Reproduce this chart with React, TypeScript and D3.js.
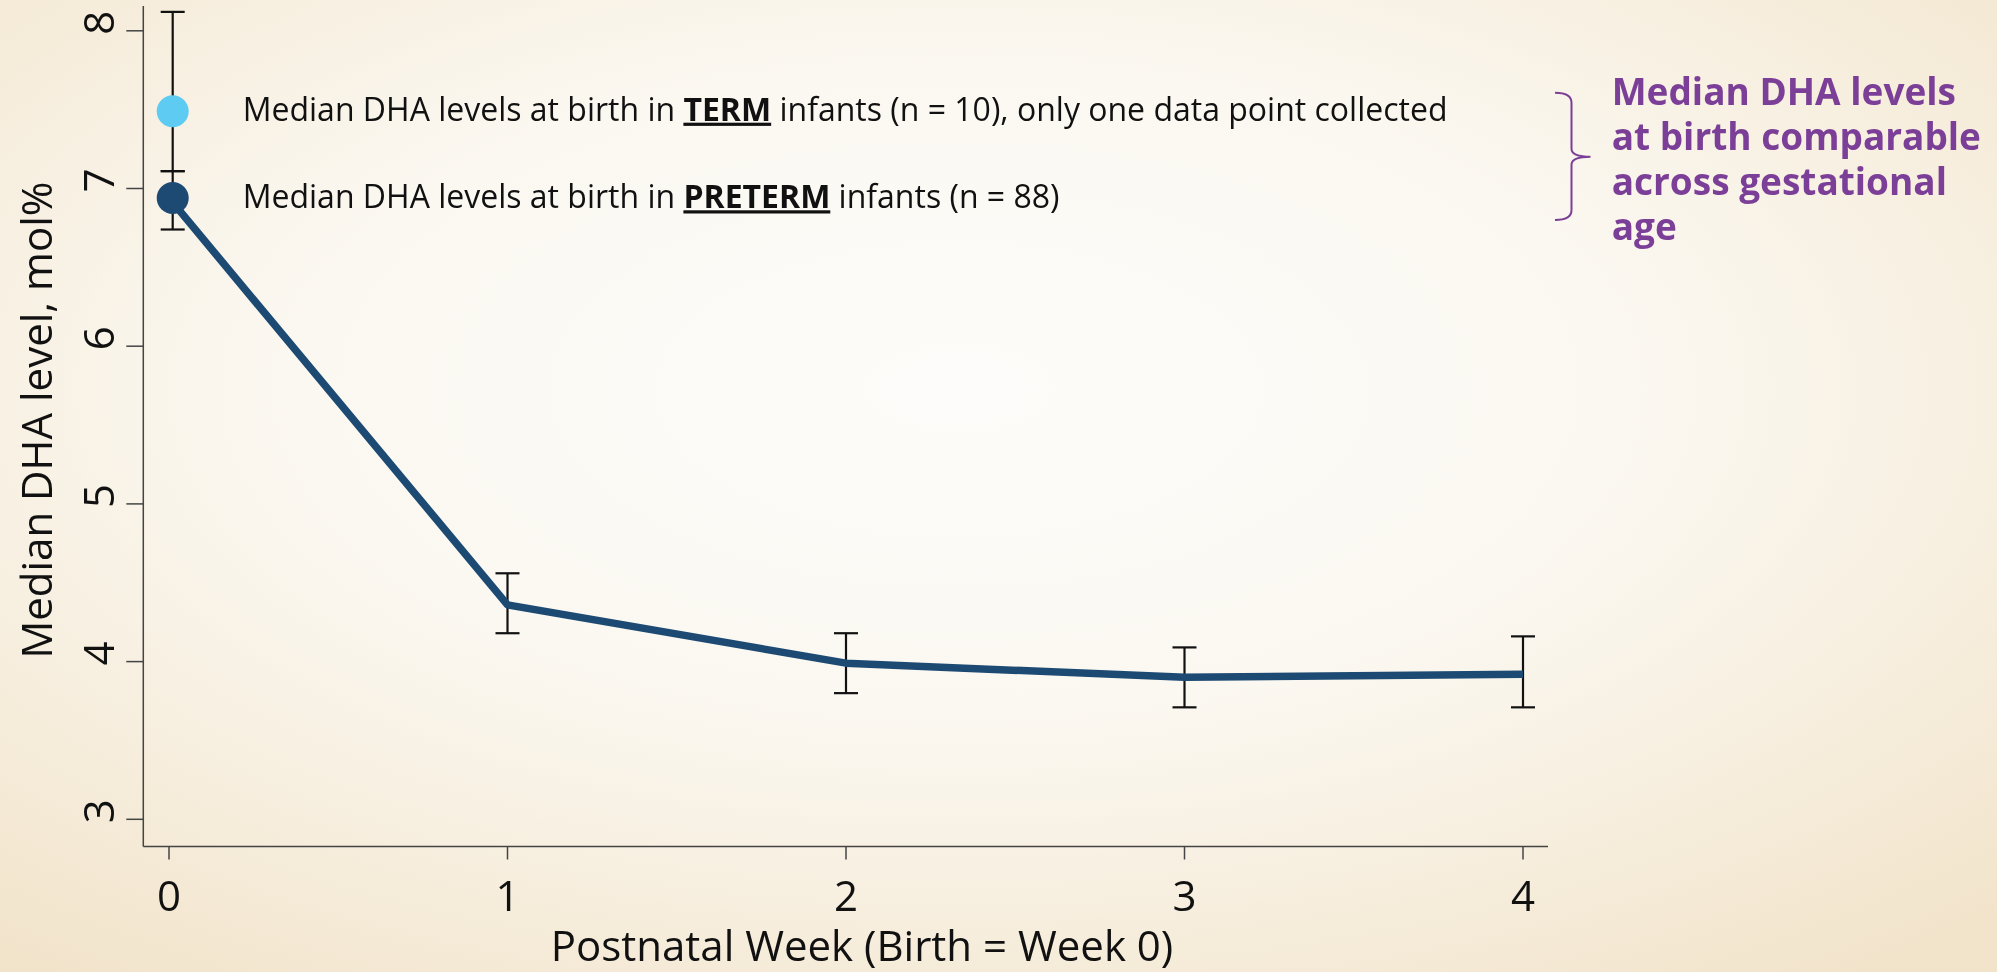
import React from "react";
import * as d3 from "d3";

const weeks = [0, 1, 2, 3, 4];
const pretermMedian = [6.94, 4.36, 3.99, 3.9, 3.92];
const pretermLower = [6.74, 4.18, 3.8, 3.71, 3.71];
const pretermUpper = [7.11, 4.56, 4.18, 4.09, 4.16];
const termWeek = [0];
const termMedian = [7.49];
const termLower = [7.11];
const termUpper = [8.12];
const yTicks = [3, 4, 5, 6, 7, 8];
const xTicks = [0, 1, 2, 3, 4];
const annotationLines = ["Median DHA levels", "at birth comparable", "across gestational", "age"];

const W = 1997;
const H = 972;
const FONT = "'Open Sans', 'Noto Sans', sans-serif";

export default function App() {
  const x = d3.scaleLinear().domain([0, 4]).range([169, 1523]);
  const y = d3.scaleLinear().domain([3, 8]).range([819.3, 30.8]);
  const axisX = 143.3;
  const axisY = 846.5;
  const capW = 12;

  const line = d3
    .line<number>()
    .x((_, i) => x(weeks[i]))
    .y((d) => y(d));

  const errBar = (cx: number, lo: number, hi: number, key: string) => (
    <g key={key} stroke="#111" strokeWidth={2.2} fill="none">
      <line x1={cx} x2={cx} y1={y(lo)} y2={y(hi)} />
      <line x1={cx - capW} x2={cx + capW} y1={y(lo)} y2={y(lo)} />
      <line x1={cx - capW} x2={cx + capW} y1={y(hi)} y2={y(hi)} />
    </g>
  );

  const braceX = 1571.5;
  const braceTop = 92.7;
  const braceBot = 220;
  const braceMid = 156.7;
  const bracePath = `M1555,${braceTop} Q${braceX},${braceTop} ${braceX},${braceTop + 10} L${braceX},${braceMid - 8} Q${braceX},${braceMid} 1590.5,${braceMid} Q${braceX},${braceMid} ${braceX},${braceMid + 8} L${braceX},${braceBot - 10} Q${braceX},${braceBot} 1555,${braceBot}`;

  return (
    <div style={{ position: "fixed", left: 0, top: 0, width: W, height: H }}>
      <svg width={W} height={H} style={{ display: "block" }}>
        <defs>
          <radialGradient id="bg" cx="48%" cy="40%" r="75%">
            <stop offset="0%" stopColor="#FDFCFA" />
            <stop offset="45%" stopColor="#FBF8F1" />
            <stop offset="100%" stopColor="#F2E4CB" />
          </radialGradient>
        </defs>
        <rect x={0} y={0} width={W} height={H} fill="url(#bg)" />

        {/* axes */}
        <g stroke="#444" strokeWidth={1.5} fill="none">
          <line x1={axisX} x2={axisX} y1={6} y2={axisY} />
          <line x1={axisX} x2={1548} y1={axisY} y2={axisY} />
          {yTicks.map((t) => (
            <line key={"yt" + t} x1={axisX - 17} x2={axisX} y1={y(t)} y2={y(t)} />
          ))}
          {xTicks.map((t) => (
            <line key={"xt" + t} x1={x(t)} x2={x(t)} y1={axisY} y2={axisY + 13} />
          ))}
        </g>
        {yTicks.map((t) => (
          <text
            key={"yl" + t}
            transform={`translate(114,${y(t) - 8}) rotate(-90)`}
            textAnchor="middle"
            fontFamily={FONT}
            fontSize={42}
            fill="#111"
          >
            {t}
          </text>
        ))}
        {xTicks.map((t) => (
          <text
            key={"xl" + t}
            x={x(t)}
            y={910.7}
            textAnchor="middle"
            fontFamily={FONT}
            fontSize={42}
            fill="#111"
          >
            {t}
          </text>
        ))}
        <text x={862} y={960.5} textAnchor="middle" fontFamily={FONT} fontSize={42} fill="#111">
          Postnatal Week (Birth = Week 0)
        </text>
        <text
          transform={`translate(52,420) rotate(-90)`}
          textAnchor="middle"
          fontFamily={FONT}
          fontSize={42}
          fill="#111"
        >
          Median DHA level, mol%
        </text>

        {/* error bars */}
        {termWeek.map((w, i) => errBar(x(w) + 3.7, termLower[i], termUpper[i], "te" + i))}
        {weeks.map((w, i) => errBar(x(w) + (i === 0 ? 3.7 : 0), pretermLower[i], pretermUpper[i], "pe" + i))}

        {/* line */}
        <path
          d={line(pretermMedian) || ""}
          fill="none"
          stroke="#1C4A73"
          strokeWidth={7.5}
          strokeLinejoin="round"
        />

        {/* dots */}
        {termWeek.map((w, i) => (
          <circle key={"td" + i} cx={x(w) + 3.7} cy={y(termMedian[i])} r={16} fill="#5ECBF3" />
        ))}
        <circle cx={x(weeks[0]) + 3.7} cy={y(pretermMedian[0])} r={16} fill="#1C4A73" />

        {/* legend text */}
        <text x={242.7} y={120.7} fontFamily={FONT} fontSize={32} fill="#111">
          Median DHA levels at birth in{" "}
          <tspan fontWeight="bold" textDecoration="underline">
            TERM
          </tspan>{" "}
          infants (n = 10), only one data point collected
        </text>
        <text x={242.7} y={208.3} fontFamily={FONT} fontSize={32} fill="#111">
          Median DHA levels at birth in{" "}
          <tspan fontWeight="bold" textDecoration="underline">
            PRETERM
          </tspan>{" "}
          infants (n = 88)
        </text>

        {/* annotation */}
        <path d={bracePath} fill="none" stroke="#7B3F98" strokeWidth={2} />
        {annotationLines.map((s, i) => (
          <text
            key={"an" + i}
            x={1611.7}
            y={105 + i * 45}
            fontFamily={FONT}
            fontWeight="bold"
            fontSize={37}
            fill="#7B3F98"
          >
            {s}
          </text>
        ))}
      </svg>
    </div>
  );
}
